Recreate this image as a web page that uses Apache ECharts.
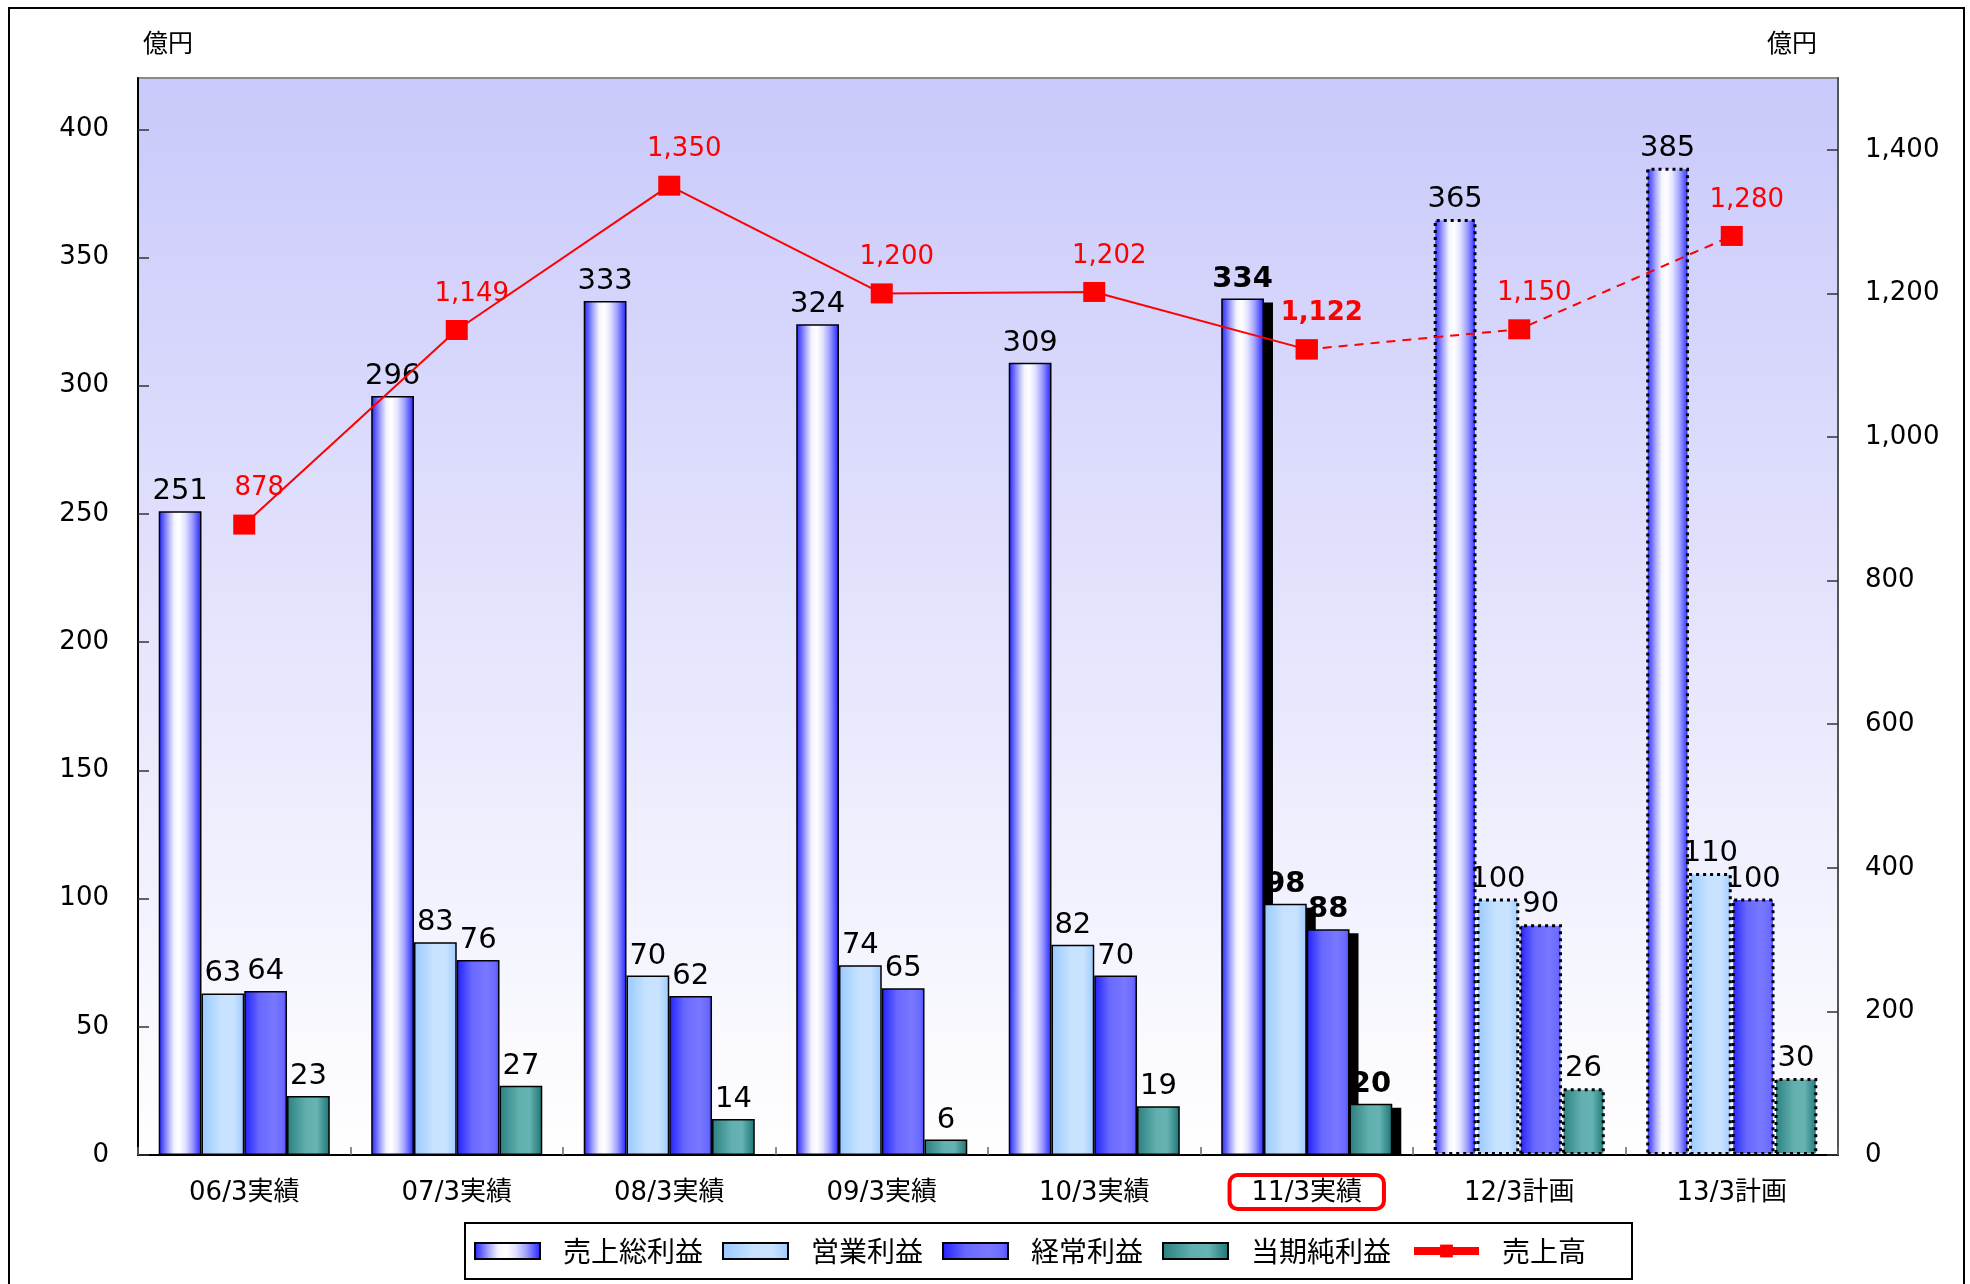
<!DOCTYPE html>
<html>
<head>
<meta charset="utf-8">
<title>業績推移</title>
<script src="https://cdn.jsdelivr.net/npm/echarts@6/dist/echarts.min.js"></script>
<style>
  html, body { margin: 0; padding: 0; background: #fff; }
  #chart { width: 1970px; height: 1284px; }
</style>
</head>
<body>
<div id="chart"></div>
<script>
// 決算期（実績・計画）
const categories = ['06/3実績', '07/3実績', '08/3実績', '09/3実績', '10/3実績', '11/3実績', '12/3計画', '13/3計画'];
// 利益（億円, 左軸）
const grossProfit = [251, 296, 333, 324, 309, 334, 365, 385];
const operatingProfit = [63, 83, 70, 74, 82, 98, 100, 110];
const ordinaryProfit = [64, 76, 62, 65, 70, 88, 90, 100];
const netProfit = [23, 27, 14, 6, 19, 20, 26, 30];
// 売上高（億円, 右軸）
const sales = [878, 1149, 1350, 1200, 1202, 1122, 1150, 1280];
// 軸目盛
const leftTicks = { min: 0, max: 420, interval: 50 };
const rightTicks = { min: 0, max: 1500, interval: 200 };
const highlightCategory = '11/3実績';

const NUM_FONT = '"DejaVu Sans", "Noto Sans CJK JP", sans-serif';
const JP_FONT = '"Noto Sans CJK JP", "DejaVu Sans", sans-serif';
const BAR_CATEGORY_GAP = 0.195;

const latestIdx = categories.indexOf(highlightCategory);
const isPlan = c => c.indexOf('計画') >= 0;

function hGrad(stops) {
  return new echarts.graphic.LinearGradient(0, 0, 1, 0,
    stops.map(s => ({ offset: s[0], color: s[1] })));
}

const fills = {
  gross: hGrad([[0, '#2323ff'], [0.1, '#5c5cff'], [0.22, '#a8a8ff'], [0.36, '#f4f4ff'], [0.48, '#ffffff'], [0.62, '#e2e2ff'], [0.78, '#a0a0ff'], [0.9, '#5a5aff'], [1, '#2020ff']]),
  operating: hGrad([[0, '#98c9ff'], [0.45, '#c6e2ff'], [0.75, '#c8e3ff'], [1, '#9dcbff']]),
  ordinary: hGrad([[0, '#2020ff'], [0.35, '#6868ff'], [0.7, '#7878ff'], [0.9, '#6a6aff'], [1, '#4a4aff']]),
  net: hGrad([[0, '#2a7f7f'], [0.45, '#62afaf'], [0.7, '#66b3b3'], [1, '#1c7474']])
};

function barData(values) {
  return values.map((v, i) => {
    const c = categories[i];
    if (i === latestIdx) {
      return { value: v, label: { fontWeight: 'bold' } };
    }
    if (isPlan(c)) {
      return {
        value: v,
        itemStyle: { borderColor: '#000', borderWidth: 3, borderType: [3, 4] }
      };
    }
    return v;
  });
}

function barSeries(name, values, fill) {
  return {
    name: name,
    type: 'bar',
    yAxisIndex: 0,
    barGap: '0%',
    barCategoryGap: (BAR_CATEGORY_GAP * 100) + '%',
    data: barData(values),
    itemStyle: { color: fill, borderColor: '#000', borderWidth: 1.5 },
    label: {
      show: true,
      position: 'top',
      distance: 5,
      color: '#000',
      fontFamily: NUM_FONT,
      fontSize: 29
    },
    z: 3
  };
}

const fmtComma = v => Number(v).toLocaleString('en-US');

// 売上高：実績は実線、計画は破線
const salesActual = sales.map((v, i) => (i <= latestIdx ? v : null));
const salesPlan = sales.map((v, i) => (i >= latestIdx ? v : null));

const lineLabel = {
  show: true,
  position: 'top',
  distance: 13,
  offset: [15, 0],
  color: '#ff0000',
  fontFamily: NUM_FONT,
  fontSize: 26
};

// 最新実績の棒に付ける黒い影（右下へずらした矩形）
function renderShadow(params, api) {
  const idx = api.value(0);
  const base = api.coord([idx, 0]);
  const band = api.size([1, 0])[0];
  const bw = band * (1 - BAR_CATEGORY_GAP) / 4;
  const children = [];
  for (let k = 0; k < 4; k++) {
    const top = api.coord([idx, api.value(k + 1)])[1];
    const x = base[0] - 2 * bw + k * bw;
    children.push({
      type: 'rect',
      shape: { x: x + 9, y: top + 4, width: bw, height: Math.max(0, base[1] - top - 4) },
      style: { fill: '#000' }
    });
  }
  return { type: 'group', children: children };
}

const option = {
  backgroundColor: '#ffffff',
  animation: false,
  grid: {
    left: 138, right: 132, top: 78, bottom: 129,
    show: true,
    backgroundColor: new echarts.graphic.LinearGradient(0, 0, 0, 1, [
      { offset: 0, color: '#c9c9fb' },
      { offset: 1, color: '#ffffff' }
    ]),
    borderColor: '#8a8a8a',
    borderWidth: 2
  },
  legend: {
    left: 465,
    top: 1223,
    orient: 'horizontal',
    padding: [14, 46, 14, 9],
    borderColor: '#000',
    borderWidth: 2,
    backgroundColor: '#ffffff',
    itemWidth: 65,
    itemHeight: 16,
    itemGap: 19,
    selectedMode: false,
    textStyle: { fontFamily: JP_FONT, fontSize: 28, color: '#000', padding: [0, 0, 0, 18] },
    data: [
      { name: '売上総利益', icon: 'rect', itemStyle: { borderWidth: 2 } },
      { name: '営業利益', icon: 'rect', itemStyle: { borderWidth: 2 } },
      { name: '経常利益', icon: 'rect', itemStyle: { borderWidth: 2 } },
      { name: '当期純利益', icon: 'rect', itemStyle: { borderWidth: 2 } },
      { name: '売上高', lineStyle: { width: 8, type: 'solid' }, itemStyle: { color: '#ff0000' } }
    ]
  },
  xAxis: {
    type: 'category',
    data: categories,
    boundaryGap: true,
    axisLine: { lineStyle: { color: '#000', width: 2 } },
    axisTick: { show: true, inside: true, length: 8, lineStyle: { color: '#666', width: 1.5 } },
    axisLabel: {
      margin: 20,
      formatter: v => (v === highlightCategory ? '{hl|' + v + '}' : '{n|' + v + '}'),
      rich: {
        n: { fontFamily: NUM_FONT, fontSize: 26, color: '#000', padding: [5, 22, 3, 22] },
        hl: {
          fontFamily: NUM_FONT, fontSize: 26, color: '#000', padding: [5, 22, 3, 22],
          borderColor: '#ff0000', borderWidth: 4, borderRadius: 8
        }
      }
    },
    splitLine: { show: false }
  },
  yAxis: [
    {
      type: 'value',
      position: 'left',
      min: leftTicks.min, max: leftTicks.max, interval: leftTicks.interval,
      axisLine: { show: true, lineStyle: { color: '#000', width: 2 } },
      axisTick: { show: true, inside: true, length: 11, lineStyle: { color: '#333', width: 1.5 } },
      axisLabel: { showMaxLabel: false, margin: 29, color: '#000', fontFamily: NUM_FONT, fontSize: 26 },
      splitLine: { show: false }
    },
    {
      type: 'value',
      position: 'right',
      min: rightTicks.min, max: rightTicks.max, interval: rightTicks.interval,
      axisLine: { show: true, lineStyle: { color: '#555', width: 2 } },
      axisTick: { show: true, inside: true, length: 11, lineStyle: { color: '#333', width: 1.5 } },
      axisLabel: { showMaxLabel: false, margin: 27, color: '#000', fontFamily: NUM_FONT, fontSize: 26, formatter: fmtComma },
      splitLine: { show: false }
    }
  ],
  series: [
    {
      name: 'shadow',
      type: 'custom',
      yAxisIndex: 0,
      renderItem: renderShadow,
      data: [[latestIdx, grossProfit[latestIdx], operatingProfit[latestIdx], ordinaryProfit[latestIdx], netProfit[latestIdx]]],
      encode: { x: 0, y: [1, 2, 3, 4] },
      silent: true,
      z: 2
    },
    barSeries('売上総利益', grossProfit, fills.gross),
    barSeries('営業利益', operatingProfit, fills.operating),
    barSeries('経常利益', ordinaryProfit, fills.ordinary),
    barSeries('当期純利益', netProfit, fills.net),
    {
      name: '売上高',
      type: 'line',
      yAxisIndex: 1,
      data: salesActual.map((v, i) => (i === latestIdx ? { value: v, label: { fontWeight: 'bold' } } : v)),
      symbol: 'rect',
      symbolSize: [22, 20],
      itemStyle: { color: '#ff0000' },
      lineStyle: { color: '#ff0000', width: 2 },
      label: Object.assign({}, lineLabel, { formatter: p => fmtComma(p.value) }),
      z: 5
    },
    {
      name: '売上高',
      type: 'line',
      yAxisIndex: 1,
      data: salesPlan,
      symbol: 'rect',
      symbolSize: [22, 20],
      itemStyle: { color: '#ff0000' },
      lineStyle: { color: '#ff0000', width: 2, type: [9, 7] },
      label: Object.assign({}, lineLabel, {
        formatter: p => (p.dataIndex === latestIdx ? '' : fmtComma(p.value))
      }),
      z: 4
    }
  ],
  graphic: [
    {
      type: 'rect', z: -10, silent: true,
      shape: { x: 9, y: 8, width: 1955, height: 1300 },
      style: { fill: null, stroke: '#000', lineWidth: 2 }
    },
    {
      type: 'text', left: 143, top: 30,
      style: { text: '億円', fontFamily: JP_FONT, fontSize: 25, fill: '#000' }
    },
    {
      type: 'text', left: 1767, top: 30,
      style: { text: '億円', fontFamily: JP_FONT, fontSize: 25, fill: '#000' }
    }
  ]
};

const chart = echarts.init(document.getElementById('chart'), null, { renderer: 'canvas' });
chart.setOption(option);
</script>
</body>
</html>
